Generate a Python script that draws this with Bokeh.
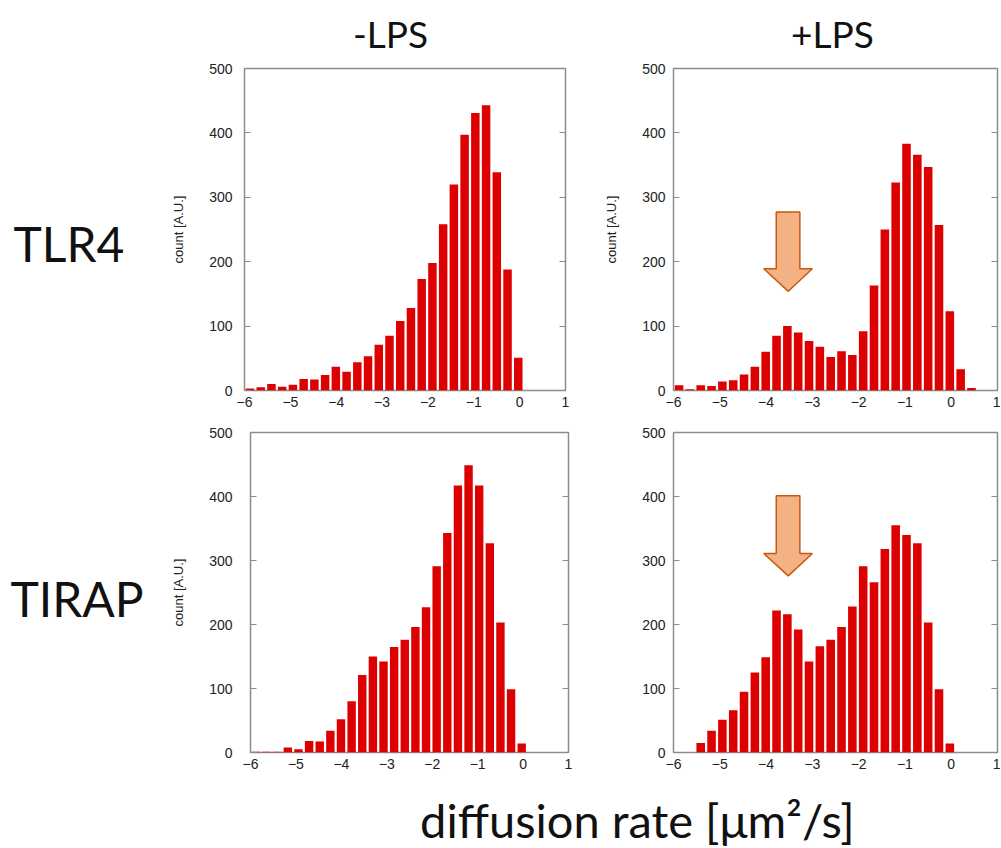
import numpy as np
from bokeh.plotting import figure
from bokeh.layouts import column, row
from bokeh.models import Range1d, LinearAxis, FixedTicker
from bokeh.core.properties import value
from bokeh.embed import file_html
from bokeh.resources import INLINE

# ---------------- data ----------------
bin_first_center = -5.88
bin_step = 0.234

tlr4_minus = [3, 5, 10, 6, 9, 18, 17, 24, 37, 29, 44, 53, 71, 85, 108, 128,
              173, 198, 258, 320, 397, 431, 443, 339, 188, 51]
tlr4_plus = [8, 2, 8, 7, 14, 16, 25, 37, 60, 85, 100, 90, 77, 68, 52, 61,
             55, 92, 163, 250, 323, 383, 366, 347, 257, 123, 33, 4]
tirap_minus = [1, 1, 1, 8, 5, 18, 17, 34, 52, 80, 121, 150, 142, 165, 176,
               196, 227, 291, 343, 417, 449, 417, 327, 203, 99, 14]
tirap_plus = [0, 0, 15, 34, 51, 66, 95, 125, 149, 222, 216, 192, 142, 166,
              176, 196, 228, 291, 266, 318, 355, 340, 327, 203, 99, 14]

x_ticks = [-6, -5, -4, -3, -2, -1, 0, 1]
y_ticks = [0, 100, 200, 300, 400, 500]

col_titles = ["-LPS", "+LPS"]
row_titles = ["TLR4", "TIRAP"]
y_label = "count [A.U.]"
x_label = "diffusion rate [\u03bcm\u00b2/s]"

# annotation arrows (data coords): shaft x, head x, tip x, top/head-base/tip y
arrow_shaft_x = [-3.78, -3.27]
arrow_head_x = [-4.05, -3.0]
arrow_tip_x = -3.52
arrow_tlr4_y = [277, 189, 154]
arrow_tirap_y = [401, 311, 276]

BAR_COLOR = "#dd0000"
FRAME_COLOR = "#8c8c8c"
TICK_FONT = "Liberation Sans"
BIG_FONT = "Lato"
TEXT_COLOR = "#111111"


def centers(n):
    return [bin_first_center + i * bin_step for i in range(n)]


def panel(vals, width, height, bl, br, bt, bb, y_std, show_ylabel):
    p = figure(width=width, height=height, x_range=Range1d(-6, 1),
               y_range=Range1d(0, 500), toolbar_location=None,
               output_backend="svg", min_border_left=bl, min_border_right=br,
               min_border_top=bt, min_border_bottom=bb)
    p.grid.visible = False
    p.outline_line_color = FRAME_COLOR
    p.outline_line_width = 1.5
    p.vbar(x=centers(len(vals)), top=vals, width=0.185, bottom=0,
           fill_color=BAR_COLOR, line_color=None)

    xa = p.xaxis[0]
    xa.ticker = FixedTicker(ticks=x_ticks)
    xa.axis_line_color = None
    xa.major_tick_in = 0
    xa.major_tick_out = 0
    xa.minor_tick_line_color = None
    xa.major_label_standoff = 6
    xa.major_label_text_font = TICK_FONT
    xa.major_label_text_font_size = "14px"
    xa.major_label_text_color = "#222222"

    ya = p.yaxis[0]
    ya.ticker = FixedTicker(ticks=y_ticks)
    ya.axis_line_color = None
    ya.major_tick_in = 6
    ya.major_tick_out = 0
    ya.major_tick_line_color = FRAME_COLOR
    ya.minor_tick_line_color = None
    ya.major_label_standoff = y_std
    ya.major_label_text_font = TICK_FONT
    ya.major_label_text_font_size = "14px"
    ya.major_label_text_color = "#222222"
    if show_ylabel:
        ya.axis_label = y_label
        ya.axis_label_text_font = TICK_FONT
        ya.axis_label_text_font_size = "13px"
        ya.axis_label_text_font_style = "normal"
        ya.axis_label_text_color = "#222222"
        ya.axis_label_standoff = 20

    ra = LinearAxis(ticker=FixedTicker(ticks=y_ticks))
    ra.axis_line_color = None
    ra.major_tick_in = 6
    ra.major_tick_out = 0
    ra.major_tick_line_color = FRAME_COLOR
    ra.minor_tick_line_color = None
    ra.major_label_standoff = 0
    ra.major_label_overrides = {t: "" for t in y_ticks}
    p.add_layout(ra, "right")
    return p


def add_arrow(p, ys):
    top_y, base, tip = ys
    xs = [arrow_shaft_x[0], arrow_shaft_x[1], arrow_shaft_x[1], arrow_head_x[1],
          arrow_tip_x, arrow_head_x[0], arrow_shaft_x[0]]
    yy = [top_y, top_y, base, base, tip, base, base]
    p.patch(xs, yy, fill_color="#f4b183", line_color="#c55a11", line_width=1.5)


def text_fig(width, height):
    t = figure(width=width, height=height, x_range=Range1d(0, width),
               y_range=Range1d(0, height), toolbar_location=None,
               output_backend="svg", min_border=0, x_axis_location=None,
               y_axis_location=None)
    t.grid.visible = False
    t.outline_line_color = None
    return t


# top titles (row 0: 0..57)
top = text_fig(1000, 57)
top.text(x=[390, 832], y=[24, 24], text=col_titles, text_font=value(BIG_FONT),
         text_font_size="37px", text_align="center",
         text_baseline="alphabetic", text_color=TEXT_COLOR)

# row 1 (57..415)
lbl1 = text_fig(168, 358)
lbl1.text(x=[13], y=[163], text=[row_titles[0]], text_font=value(BIG_FONT),
          text_font_size="48px", text_align="left", text_baseline="alphabetic",
          text_color=TEXT_COLOR)
p1 = panel(tlr4_minus, 422, 358, 72, 25, 8, 25, 12, True)
p2 = panel(tlr4_plus, 410, 358, 83, 3, 11, 23, 8, True)
add_arrow(p2, arrow_tlr4_y)

# row 2 (415..785)
lbl2 = text_fig(168, 370)
lbl2.text(x=[10], y=[178], text=[row_titles[1]], text_font=value(BIG_FONT),
          text_font_size="48px", text_align="left", text_baseline="alphabetic",
          text_color=TEXT_COLOR)
p3 = panel(tirap_minus, 422, 370, 78, 22, 13, 33, 18, True)
p4 = panel(tirap_plus, 410, 370, 83, 3, 17, 29, 8, False)
add_arrow(p4, arrow_tirap_y)

# bottom axis title (785..847)
bottom = text_fig(1000, 62)
bottom.text(x=[637], y=[28], text=[x_label], text_font=value(BIG_FONT),
            text_font_size="47px", text_align="center",
            text_baseline="alphabetic", text_color=TEXT_COLOR)

layout = column(top, row(lbl1, p1, p2), row(lbl2, p3, p4), bottom)

open("out.html", "w").write(file_html(layout, INLINE))
